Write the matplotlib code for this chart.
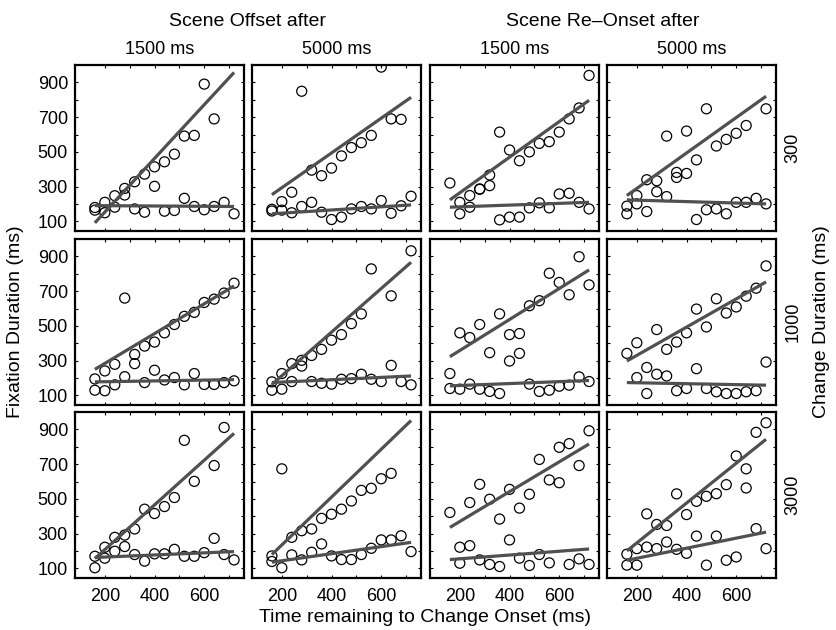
"""Fixation duration vs. time remaining to change onset, 3x4 panel grid."""

import matplotlib
matplotlib.use("Agg")
import matplotlib.pyplot as plt
import numpy as np

# time bins (ms) shared by every panel
X_BINS = [160, 200, 240, 280, 320, 360, 400, 440, 480, 520, 560, 600, 640, 680, 720]
FIT_X = [160, 720]

COL_GROUPS = ["Scene Offset after", "Scene Re\u2013Onset after"]
COL_LABELS = ["1500 ms", "5000 ms", "1500 ms", "5000 ms"]
ROW_LABELS = ["300", "1000", "3000"]

X_MAJOR = [200, 400, 600]
X_MINOR = [300, 500, 700]
Y_MAJOR = [100, 300, 500, 700, 900]
Y_MINOR = [200, 400, 600, 800]

N = None

# row 1: change duration 300 ms
OFF1500_CD300_UP = [165, 210, 248, 290, 328, 372, 414, 443, 487, 591, 595, 890, 690, N, N]
OFF1500_CD300_LO = [180, 150, 182, 252, 172, 153, 302, 159, 163, 233, 186, 167, 186, 210, 144]
OFF1500_CD300_FIT = [[92, 957], [191, 186]]

OFF5000_CD300_UP = [170, 214, 268, 849, 395, 363, 407, 477, 525, 553, 595, 988, 690, 687, N]
OFF5000_CD300_LO = [160, 165, 150, 186, 210, 153, 111, 125, 172, 186, 172, 220, 147, 190, 245]
OFF5000_CD300_FIT = [[254, 814], [144, 195]]

ON1500_CD300_UP = [321, 210, 249, 287, 367, 614, 511, 449, 500, 549, 559, 614, 690, 753, 940]
ON1500_CD300_LO = [N, 144, 182, 285, 306, 109, 125, 125, 178, 207, 178, 258, 262, 210, 172]
ON1500_CD300_FIT = [[224, 797], [182, 210]]

ON5000_CD300_UP = [188, 249, 340, 334, 591, 382, 620, 454, 748, 534, 572, 607, 652, N, 748]
ON5000_CD300_LO = [144, 201, 157, 271, 243, 353, 376, 111, 167, 172, 144, 210, 210, 233, 201]
ON5000_CD300_FIT = [[249, 820], [224, 201]]

# row 2: change duration 1000 ms
OFF1500_CD1000_UP = [195, 241, 279, 660, 336, 384, 407, 460, 508, 555, 578, 635, 654, 689, 746]
OFF1500_CD1000_LO = [130, 127, 161, 208, 283, 174, 245, 189, 203, 161, 226, 163, 163, 174, 184]
OFF1500_CD1000_FIT = [[250, 730], [178, 191]]

OFF5000_CD1000_UP = [178, 226, 283, 302, 330, 365, 418, 450, 513, 569, 828, N, 673, N, 932]
OFF5000_CD1000_LO = [130, 136, 180, 269, 180, 170, 165, 193, 197, 222, 193, 180, 273, 180, 161]
OFF5000_CD1000_FIT = [[163, 866], [174, 212]]

ON1500_CD1000_UP = [226, 460, 433, 508, 346, 569, 450, 456, 616, 645, 803, 750, 679, 898, 736]
ON1500_CD1000_LO = [140, 136, 165, 136, 123, 111, 298, 342, 165, 123, 130, 153, 159, 207, 180]
ON1500_CD1000_FIT = [[323, 822], [155, 186]]

ON5000_CD1000_UP = [342, 403, 261, 479, 365, 407, 460, 597, 494, 656, 574, 609, 671, 717, 845]
ON5000_CD1000_LO = [N, 203, 111, 222, 212, 127, 140, 254, 140, 121, 111, 111, 121, 127, 292]
ON5000_CD1000_FIT = [[298, 753], [174, 159]]

# row 3: change duration 3000 ms
OFF1500_CD3000_UP = [170, 222, 279, 292, 327, 441, 416, 456, 508, 837, 601, N, 692, 911, N]
OFF1500_CD3000_LO = [104, 159, 199, 226, 180, 142, 184, 184, 210, 170, 170, 191, 273, 180, 149]
OFF1500_CD3000_FIT = [[157, 877], [163, 197]]

OFF5000_CD3000_UP = [172, 673, 279, 317, 327, 388, 412, 441, 488, 549, 561, 616, 647, N, N]
OFF5000_CD3000_LO = [140, 104, 178, 149, 193, 241, 172, 151, 151, 180, 216, 264, 264, 288, 197]
OFF5000_CD3000_FIT = [[180, 951], [136, 250]]

ON1500_CD3000_UP = [422, 222, 479, 584, 498, 384, 555, 447, 527, 727, 609, 797, 818, 692, 892]
ON1500_CD3000_LO = [N, 130, 231, 149, 123, 111, 264, 159, 117, 180, 132, 593, 123, 155, 123]
ON1500_CD3000_FIT = [[336, 816], [151, 212]]

ON5000_CD3000_UP = [182, 214, 414, 353, 347, 529, 410, 486, 515, 530, 582, 747, 673, 883, 938]
ON5000_CD3000_LO = [119, 119, 223, 214, 252, 210, 187, 286, 119, 286, 147, 166, 563, 329, 214]
ON5000_CD3000_FIT = [[201, 843], [147, 309]]

GRID = [
    [(OFF1500_CD300_UP, OFF1500_CD300_LO, OFF1500_CD300_FIT),
     (OFF5000_CD300_UP, OFF5000_CD300_LO, OFF5000_CD300_FIT),
     (ON1500_CD300_UP, ON1500_CD300_LO, ON1500_CD300_FIT),
     (ON5000_CD300_UP, ON5000_CD300_LO, ON5000_CD300_FIT)],
    [(OFF1500_CD1000_UP, OFF1500_CD1000_LO, OFF1500_CD1000_FIT),
     (OFF5000_CD1000_UP, OFF5000_CD1000_LO, OFF5000_CD1000_FIT),
     (ON1500_CD1000_UP, ON1500_CD1000_LO, ON1500_CD1000_FIT),
     (ON5000_CD1000_UP, ON5000_CD1000_LO, ON5000_CD1000_FIT)],
    [(OFF1500_CD3000_UP, OFF1500_CD3000_LO, OFF1500_CD3000_FIT),
     (OFF5000_CD3000_UP, OFF5000_CD3000_LO, OFF5000_CD3000_FIT),
     (ON1500_CD3000_UP, ON1500_CD3000_LO, ON1500_CD3000_FIT),
     (ON5000_CD3000_UP, ON5000_CD3000_LO, ON5000_CD3000_FIT)],
]

W, H = 837, 630
COL_LEFT = [75, 252, 430, 607]
ROW_TOP = [65, 239, 412]
AX_W, AX_H = 169, 166
LINE_COLOR = "#505050"

plt.rcParams["font.family"] = ["Liberation Sans", "DejaVu Sans"]


def fx(px):
    return px / W


def fy(py):
    return 1 - py / H


def draw_panel(ax, up, lo, fit):
    x = np.array(X_BINS, dtype=float)
    for series in (up, lo):
        y = np.array([np.nan if v is None else v for v in series], dtype=float)
        ax.scatter(x, y, s=52, facecolors="none", edgecolors="black",
                   linewidths=0.9, zorder=2)
    for seg in fit:
        ax.plot(FIT_X, seg, color=LINE_COLOR, lw=2.3, solid_capstyle="butt", zorder=3)

    ax.set_xlim(80, 760)
    ax.set_ylim(45, 1000)
    ax.set_xticks(X_MAJOR)
    ax.set_xticks(X_MINOR, minor=True)
    ax.set_yticks(Y_MAJOR)
    ax.set_yticks(Y_MINOR, minor=True)
    ax.tick_params(which="both", direction="in", top=True, right=True,
                   length=2.5, width=0.8, labelsize=13)
    ax.tick_params(axis="x", pad=7)
    ax.tick_params(axis="y", pad=5)
    for sp in ax.spines.values():
        sp.set_linewidth(1.6)


fig = plt.figure(figsize=(W / 100, H / 100), dpi=100)

for r, row in enumerate(GRID):
    for c, (up, lo, fit) in enumerate(row):
        ax = fig.add_axes([fx(COL_LEFT[c]), fy(ROW_TOP[r] + AX_H), fx(AX_W), AX_H / H])
        draw_panel(ax, up, lo, fit)
        if c != 0:
            ax.set_yticklabels([])
        if r != len(GRID) - 1:
            ax.set_xticklabels([])

# column headers
for g, label in enumerate(COL_GROUPS):
    cx = (COL_LEFT[2 * g] + COL_LEFT[2 * g + 1] + AX_W) / 2
    fig.text(fx(cx), fy(21), label, ha="center", va="center", fontsize=14)
for c, label in enumerate(COL_LABELS):
    fig.text(fx(COL_LEFT[c] + AX_W / 2), fy(49), label, ha="center", va="center", fontsize=13)

# row labels on the right
for r, label in enumerate(ROW_LABELS):
    fig.text(fx(793), fy(ROW_TOP[r] + AX_H / 2), label, rotation=90,
             ha="center", va="center", fontsize=13)

mid_y = (ROW_TOP[0] + ROW_TOP[-1] + AX_H) / 2
fig.text(fx(822), fy(mid_y), "Change Duration (ms)", rotation=90,
         ha="center", va="center", fontsize=14)
fig.text(fx(16), fy(mid_y), "Fixation Duration (ms)", rotation=90,
         ha="center", va="center", fontsize=14)
fig.text(fx((COL_LEFT[0] + COL_LEFT[-1] + AX_W) / 2), fy(618),
         "Time remaining to Change Onset (ms)", ha="center", va="center", fontsize=14)

fig.savefig("out.png", dpi=100)
